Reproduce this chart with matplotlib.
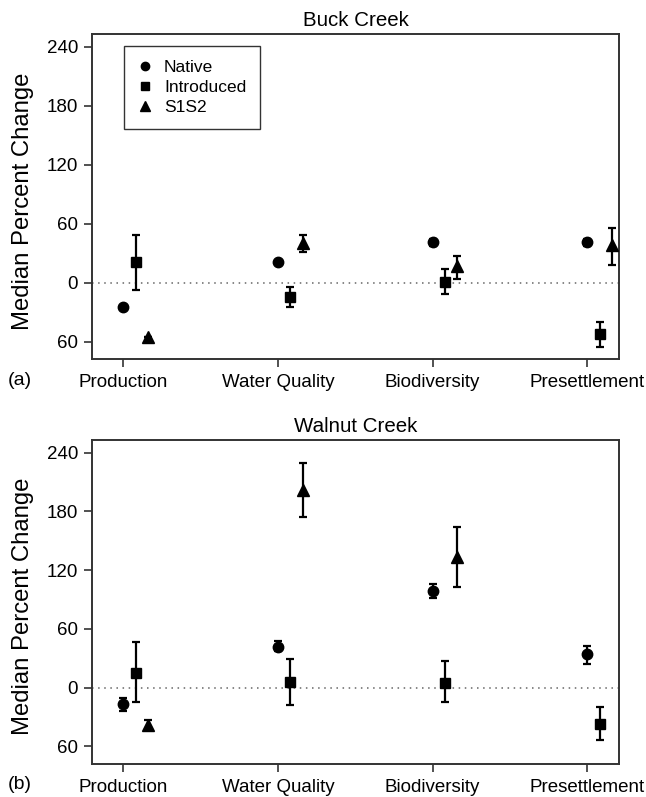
import numpy as np
import matplotlib
matplotlib.use("Agg")
from matplotlib import pyplot as plt
from matplotlib.lines import Line2D

plt.rcParams["font.family"] = ["Liberation Sans", "DejaVu Sans"]

# Categories and series (median, lower, upper)
categories = ["Production", "Water Quality", "Biodiversity", "Presettlement"]
series_names = ["Native", "Introduced", "S1S2"]

# Buck Creek
buck_native = [-25, 21, 41, 41]
buck_native_lo = [-25, 21, 37, 37]
buck_native_hi = [-25, 21, 45, 45]
buck_intro = [21, -14, 1, -52]
buck_intro_lo = [-7, -25, -11.5, -65]
buck_intro_hi = [49, -4, 14, -40]
buck_s1s2 = [-55, 40, 17, 38]
buck_s1s2_lo = [-55, 31.5, 4, 18]
buck_s1s2_hi = [-55, 49, 27, 56]

# Walnut Creek
walnut_native = [-17, 42, 99, 34]
walnut_native_lo = [-24, 37, 92, 24]
walnut_native_hi = [-11, 48, 106, 43]
walnut_intro = [15, 6, 5, -37]
walnut_intro_lo = [-15, -18, -15, -53]
walnut_intro_hi = [47, 29, 27, -20]
walnut_s1s2 = [-38, 202, 133, np.nan]
walnut_s1s2_lo = [-43, 174, 103, np.nan]
walnut_s1s2_hi = [-33, 230, 164, np.nan]

yticks = [-60, 0, 60, 120, 180, 240]
ytick_labels = ["60", "0", "60", "120", "180", "240"]

MARKERS = {"Native": ("o", 7.5), "Introduced": ("s", 6.5), "S1S2": ("^", 8.5)}
OFFSETS = {"Native": 0.0, "Introduced": 0.08, "S1S2": 0.16}
SPINE_COLOR = "#333333"


def draw_panel(ax, data, title, tag):
    x = np.arange(1, len(categories) + 1)
    for name, (med, lo, hi) in zip(series_names, data):
        med = np.asarray(med, float)
        err = np.vstack([med - np.asarray(lo, float), np.asarray(hi, float) - med])
        marker, ms = MARKERS[name]
        ax.errorbar(x + OFFSETS[name], med, yerr=err, fmt=marker, ms=ms,
                    color="black", ecolor="black", elinewidth=1.6,
                    capsize=3, capthick=1.6, zorder=4)
    ax.axhline(0, color="#666666", linestyle=(0, (1, 3)), linewidth=1.1, zorder=1)
    ax.set_xlim(0.798, 4.205)
    ax.set_ylim(-77.5, 253)
    ax.set_xticks(x)
    ax.set_xticklabels(categories, fontsize=13.5)
    ax.set_yticks(yticks)
    ax.set_yticklabels(ytick_labels, fontsize=13.5)
    ax.tick_params(direction="out", length=6, width=1.2, color=SPINE_COLOR, pad=4)
    ax.tick_params(axis="x", pad=5)
    for spine in ax.spines.values():
        spine.set_color(SPINE_COLOR)
        spine.set_linewidth(1.4)
    ax.set_title(title, fontsize=14.8, pad=6)
    ax.set_ylabel("Median Percent Change", fontsize=17.2)
    ax.yaxis.set_label_coords(-0.11, 0.485)
    ax.text(-0.16, -0.065, tag, transform=ax.transAxes, fontsize=14,
            ha="left", va="center")


fig = plt.figure(figsize=(6.46, 7.97), dpi=100)
ax_top = fig.add_axes([0.1424, 0.5496, 0.8158, 0.4078])
ax_bot = fig.add_axes([0.1424, 0.0420, 0.8158, 0.4059])

draw_panel(ax_top, [(buck_native, buck_native_lo, buck_native_hi),
                    (buck_intro, buck_intro_lo, buck_intro_hi),
                    (buck_s1s2, buck_s1s2_lo, buck_s1s2_hi)], "Buck Creek", "(a)")
draw_panel(ax_bot, [(walnut_native, walnut_native_lo, walnut_native_hi),
                    (walnut_intro, walnut_intro_lo, walnut_intro_hi),
                    (walnut_s1s2, walnut_s1s2_lo, walnut_s1s2_hi)], "Walnut Creek", "(b)")

handles = [Line2D([], [], linestyle="none", marker=MARKERS[n][0], ms=MARKERS[n][1] * 0.8,
                  color="black") for n in series_names]
leg = ax_top.legend(handles, series_names, loc="upper left", bbox_to_anchor=(0.0607, 0.962),
                    borderaxespad=0, fontsize=12.5, frameon=True, fancybox=False,
                    edgecolor="black", handlelength=0.8, handletextpad=0.7,
                    labelspacing=0.28, borderpad=0.8)
leg.get_frame().set_linewidth(1.0)

fig.savefig("out.png", dpi=100)
